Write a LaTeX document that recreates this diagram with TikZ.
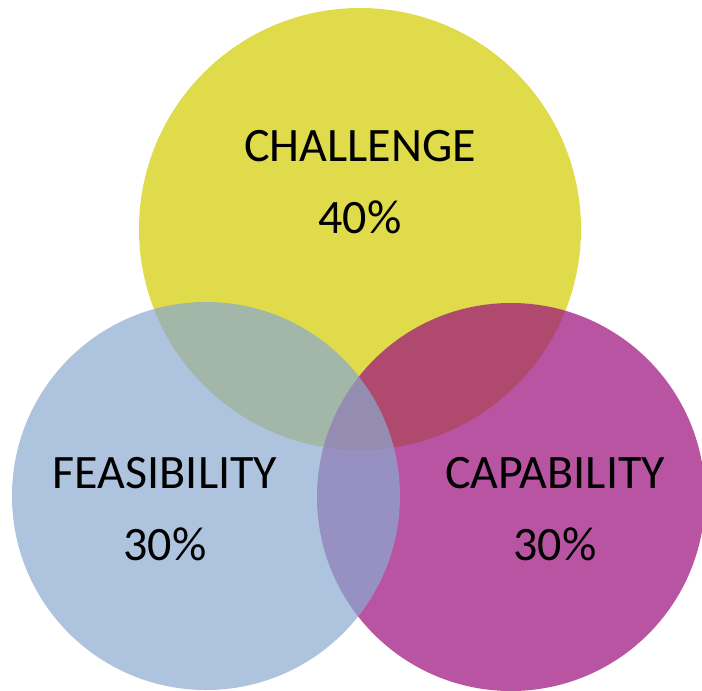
\documentclass[tikz,border=0pt]{standalone}
\usepackage{fontspec}
\setmainfont{Carlito}
\usepackage{xcolor}
\definecolor{chalyellow}{RGB}{223,219,74}
\definecolor{capamagenta}{RGB}{155,12,124}
\definecolor{feasblue}{RGB}{138,169,208}
\tikzset{
  venn/.style={circle,draw=none,inner sep=0pt},
  lbl/.style={anchor=base,inner sep=0pt,font=\fontsize{36}{43}\selectfont}
}
\begin{document}
\begin{tikzpicture}[x=0.75pt,y=0.75pt,yscale=-1,xscale=1]
\useasboundingbox (0,0) rectangle (702,691);

%Shape: Circle [challenge]
\node[venn,fill=chalyellow,minimum size=331.5pt] (chal) at (360,229) {};
%Shape: Circle [capability]
\node[venn,fill=capamagenta,fill opacity=0.7,minimum size=291pt] (capa) at (511,497) {};
%Shape: Circle [feasibility]
\node[venn,fill=feasblue,fill opacity=0.7,minimum size=291pt] (feas) at (206,496) {};

% Text Node
\node[lbl] (chalname) at (360,162) {CHALLENGE};
% Text Node
\node[lbl] (chalpct) at (360,234) {40\%};
% Text Node
\node[lbl] (feasname) at (165,488) {FEASIBILITY};
% Text Node
\node[lbl] (feaspct) at (165,560) {30\%};
% Text Node
\node[lbl] (capaname) at (555,488) {CAPABILITY};
% Text Node
\node[lbl] (capapct) at (555,560) {30\%};
\end{tikzpicture}
\end{document}
